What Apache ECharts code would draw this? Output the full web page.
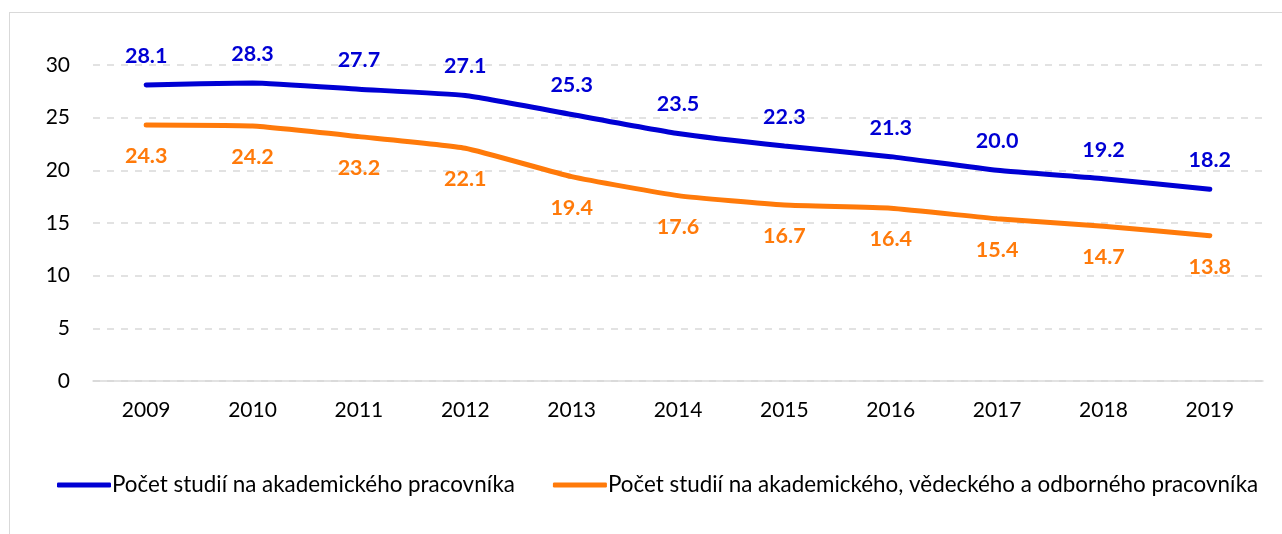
<!DOCTYPE html>
<html>
<head>
<meta charset="utf-8">
<script src="https://cdn.jsdelivr.net/npm/echarts@6/dist/echarts.min.js"></script>
<style>
  html, body { margin: 0; padding: 0; background: #fff; }
  #frame { position: absolute; left: 9px; top: 12px; width: 1300px; height: 560px;
           border-left: 1px solid #d9d9d9; border-top: 1px solid #d9d9d9; }
  #chart { position: absolute; left: 0; top: 0; width: 1282px; height: 534px; }
</style>
</head>
<body>
<div id="frame"></div>
<div id="chart"></div>
<script>
// roky a hodnoty
const years = ["2009", "2010", "2011", "2012", "2013", "2014", "2015", "2016", "2017", "2018", "2019"];
const akademicky = [28.1, 28.3, 27.7, 27.1, 25.3, 23.5, 22.3, 21.3, 20.0, 19.2, 18.2];
const vedecky = [24.3, 24.2, 23.2, 22.1, 19.4, 17.6, 16.7, 16.4, 15.4, 14.7, 13.8];
const seriesNames = [
  "Počet studií na akademického pracovníka",
  "Počet studií na akademického, vědeckého a odborného pracovníka"
];

const FONT = "Lato";
const BLUE = "#0000d4";
const ORANGE = "#ff7a0a";

const chart = echarts.init(document.getElementById("chart"));

const option = {
  animation: false,
  textStyle: { fontFamily: FONT },
  grid: { left: 93, right: 19, top: 65, bottom: 153 },
  legend: {
    bottom: 33,
    left: 52,
    itemWidth: 54,
    itemHeight: 5,
    itemGap: 38,
    icon: "roundRect",
    textStyle: { fontFamily: FONT, fontSize: 22.4, color: "#000", padding: [0, 0, 0, -4] },
    data: seriesNames
  },
  xAxis: {
    type: "category",
    data: years,
    boundaryGap: true,
    axisLine: { lineStyle: { color: "#d9d9d9", width: 1.5 } },
    axisTick: { show: false },
    axisLabel: { color: "#000", fontSize: 21, margin: 19 }
  },
  yAxis: {
    type: "value",
    min: 0,
    max: 30,
    interval: 5,
    axisLine: { show: false },
    axisTick: { show: false },
    axisLabel: { color: "#000", fontSize: 21, margin: 23 },
    splitLine: { lineStyle: { color: "#d9d9d9", type: [7, 7], width: 1.5 } }
  },
  series: [
    {
      name: seriesNames[0],
      type: "line",
      data: akademicky,
      smooth: 0.15,
      symbol: "circle",
      symbolSize: 0,
      showSymbol: true,
      lineStyle: { color: BLUE, width: 5, cap: "round" },
      itemStyle: { color: BLUE },
      label: {
        show: true,
        position: "top",
        distance: 18,
        color: BLUE,
        fontWeight: "bold",
        fontSize: 21.5,
        formatter: p => p.value.toFixed(1)
      }
    },
    {
      name: seriesNames[1],
      type: "line",
      data: vedecky,
      smooth: 0.15,
      symbol: "circle",
      symbolSize: 0,
      showSymbol: true,
      lineStyle: { color: ORANGE, width: 5, cap: "round" },
      itemStyle: { color: ORANGE },
      label: {
        show: true,
        position: "bottom",
        distance: 20,
        color: ORANGE,
        fontWeight: "bold",
        fontSize: 21.5,
        formatter: p => p.value.toFixed(1)
      }
    }
  ]
};

chart.setOption(option);
</script>
</body>
</html>
